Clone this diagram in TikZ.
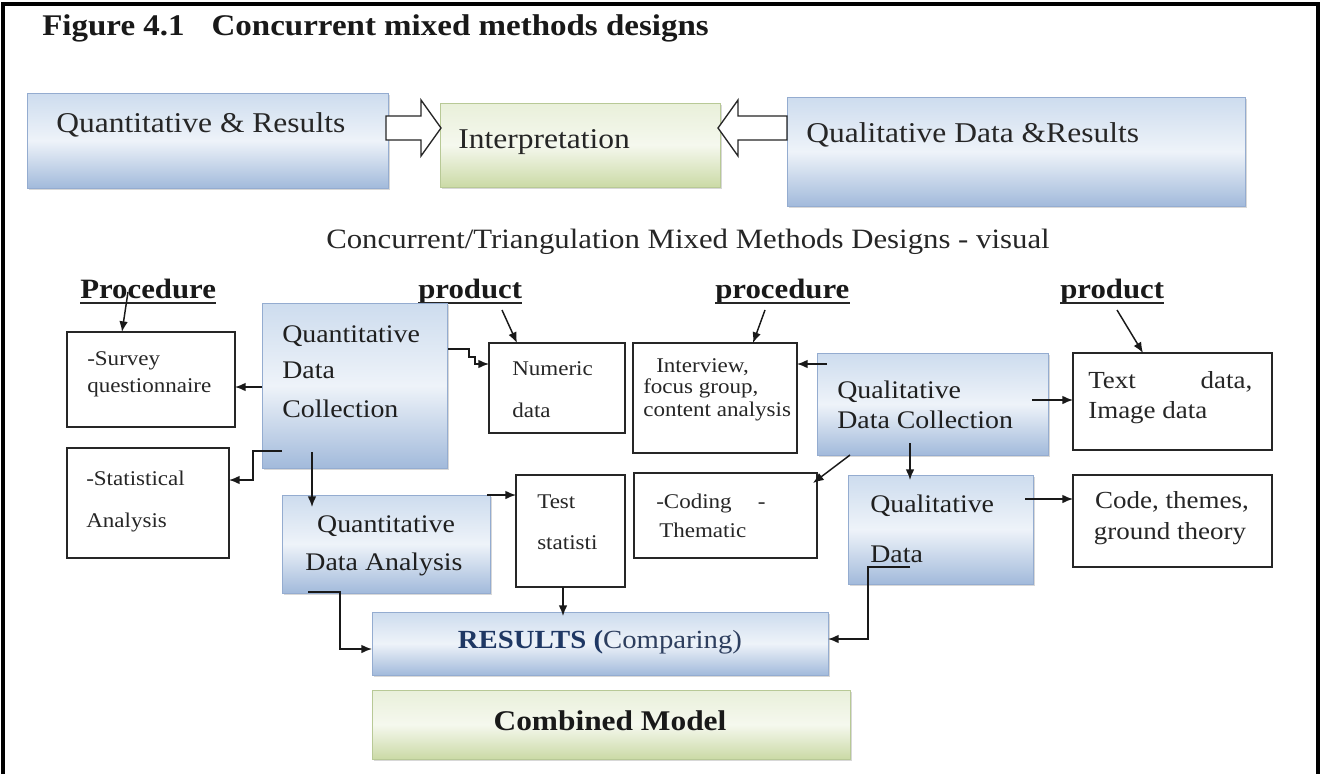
\documentclass[tikz,border=0pt]{standalone}
\usepackage{fontspec}
\setmainfont{Liberation Serif}[FakeStretch=1.1]
\usetikzlibrary{calc,shadows,arrows.meta}
\definecolor{bluetop}{HTML}{CDDCEE}
\definecolor{bluemid}{HTML}{EEF3F9}
\definecolor{bluebot}{HTML}{A2BADB}
\definecolor{blueedge}{HTML}{94ACD0}
\definecolor{greentop}{HTML}{E9F0DA}
\definecolor{greenmid}{HTML}{F5F8EE}
\definecolor{greenbot}{HTML}{CBDAA6}
\definecolor{greenedge}{HTML}{B8C996}
\definecolor{resnavy}{HTML}{1F3864}
\definecolor{resslate}{HTML}{2E3F5F}
\newcommand\BX[6]{\node[#6,anchor=north west,minimum width={(#4-#2)*0.75pt},minimum height={(#5-#3)*0.75pt},inner sep=0pt,outer sep=0pt] (#1) at (#2,#3) {};}
\newcommand\TX[5]{\node[#4,anchor=base west,inner sep=0pt] (#1) at (#2,#3) {#5};}
\newcommand\TC[5]{\node[#4,anchor=base,inner sep=0pt] (#1) at (#2,#3) {#5};}
\tikzset{
 pbox/.style={draw=black!85,line width=1.1pt,fill=white},
 bluebox/.style={top color=bluetop,bottom color=bluebot,middle color=bluemid,draw=blueedge,line width=0.5pt,drop shadow={opacity=0.3,shadow xshift=1.8pt,shadow yshift=-1.8pt}},
 greenbox/.style={top color=greentop,bottom color=greenbot,middle color=greenmid,draw=greenedge,line width=0.5pt,drop shadow={opacity=0.3,shadow xshift=1.8pt,shadow yshift=-1.8pt}},
 arr/.style={-{Latex[length=8pt,width=6.5pt]},line width=1.1pt,draw=black!90},
 hollow/.style={draw=black!85,line width=1pt,fill=white,line join=miter},
 ul/.style={line width=1.4pt,draw=black!85},
 ttl/.style={font=\bfseries\fontsize{22.5}{27}\selectfont,text=black!90},
 topt/.style={font=\fontsize{21.5}{26}\selectfont,text=black!85},
 subt/.style={font=\fontsize{21}{25}\selectfont,text=black!85},
 hd/.style={font=\bfseries\fontsize{21}{25}\selectfont,text=black!90},
 bt/.style={font=\fontsize{19}{23}\selectfont,text=black!88},
 smt/.style={font=\fontsize{15.7}{19}\selectfont,text=black!85},
 rbt/.style={font=\fontsize{18.4}{22}\selectfont,text=black!85},
 rest/.style={font=\fontsize{19.6}{23}\selectfont},
 cmb/.style={font=\bfseries\fontsize{21.4}{25}\selectfont,text=black!90},
}
\begin{document}
\begin{tikzpicture}[x=0.75pt,y=-0.75pt]
\useasboundingbox (0,0) rectangle (1323,774);
\fill[white] (0,0) rectangle (1323,774);
% frame
\draw[line width=3pt,black] (3,774) -- (3,4) -- (1318,4) -- (1318,774);
% title
\TX{title}{42}{36}{ttl}{Figure 4.1\hspace{0.9em}Concurrent mixed methods designs}
% top row
\BX{qr}{27}{93}{388}{188}{bluebox}
\BX{interp}{440}{103}{720}{187}{greenbox}
\BX{ql}{787}{97}{1245}{206}{bluebox}
\TX{tqr}{56}{132}{topt}{Quantitative \& Results}
\TX{tint}{458}{148}{topt}{Interpretation}
\TX{tql}{806}{142}{topt}{Qualitative Data \&Results}
\coordinate (ra) at ($(qr.north east)+(-2,35)$);
\coordinate (rb) at ($(interp.north west)+(1,25)$);
\coordinate (la) at ($(ql.north west)+(0,31)$);
\coordinate (lb) at ($(interp.north east)+(-2,25)$);
\draw[hollow] let \p1=(ra),\p2=(rb) in (\x1,\y1+9pt) -- (\x2-15pt,\y1+9pt) -- (\x2-15pt,\y1+21pt) -- (\x2,\y1) -- (\x2-15pt,\y1-21pt) -- (\x2-15pt,\y1-9pt) -- (\x1,\y1-9pt) -- cycle;
\draw[hollow] let \p1=(la),\p2=(lb) in (\x1,\y1+9pt) -- (\x2+15pt,\y1+9pt) -- (\x2+15pt,\y1+21pt) -- (\x2,\y1) -- (\x2+15pt,\y1-21pt) -- (\x2+15pt,\y1-9pt) -- (\x1,\y1-9pt) -- cycle;
% subtitle
\TC{sub}{688}{248}{subt}{Concurrent/Triangulation Mixed Methods Designs - visual}
% headings
\TX{h1}{80}{298}{hd}{Procedure}
\TX{h2}{418}{298}{hd}{product}
\TX{h3}{715}{298}{hd}{procedure}
\TX{h4}{1060}{298}{hd}{product}
\foreach \h in {h1,h2,h3,h4}{\draw[ul] ($(\h.base west)+(0,5)$) -- ($(\h.base east)+(0,5)$);}
% boxes
\BX{survey}{67}{332}{235}{427}{pbox}
\BX{qdc}{262}{303}{447}{468}{bluebox}
\BX{numeric}{489}{343}{625}{433}{pbox}
\BX{interview}{633}{343}{797}{453}{pbox}
\BX{qualdc}{817}{353}{1048}{455}{bluebox}
\BX{textdata}{1073}{353}{1272}{450}{pbox}
\BX{stat}{67}{448}{229}{558}{pbox}
\BX{qda}{282}{495}{490}{593}{bluebox}
\BX{test}{516}{475}{625}{587}{pbox}
\BX{coding}{634}{473}{817}{558}{pbox}
\BX{qualdata}{848}{475}{1033}{584}{bluebox}
\BX{codethemes}{1073}{475}{1272}{567}{pbox}
\BX{results}{372}{612}{828}{675}{bluebox}
\BX{combined}{372}{690}{850}{759}{greenbox}
% texts
\TX{ts1}{87}{365}{smt}{-Survey}
\TX{ts2}{87}{392}{smt}{questionnaire}
\TX{tq1}{282}{342}{bt}{Quantitative}
\TX{tq2}{282}{378}{bt}{Data}
\TX{tq3}{282}{417}{bt}{Collection}
\TX{tn1}{512}{375}{smt}{Numeric}
\TX{tn2}{512}{417}{smt}{data}
\TX{ti1}{656}{372}{smt}{Interview,}
\TX{ti2}{643}{393}{smt}{focus group,}
\TX{ti3}{643}{416}{smt}{content analysis}
\TX{tc1}{837}{398}{bt}{Qualitative}
\TX{tc2}{837}{428}{bt}{Data Collection}
\TX{tt1}{1088}{388}{rbt}{\makebox[123pt][s]{Text\hfill data,}}
\TX{tt2}{1088}{418}{rbt}{Image data}
\TX{tst1}{86}{485}{smt}{-Statistical}
\TX{tst2}{86}{527}{smt}{Analysis}
\TC{ta1}{386}{532}{bt}{Quantitative}
\TC{ta2}{384}{570}{bt}{Data Analysis}
\TX{te1}{537}{508}{smt}{Test}
\TX{te2}{537}{549}{smt}{statisti}
\TX{tco1}{656}{508}{smt}{\makebox[82pt][s]{-Coding\hfill-}}
\TX{tco2}{659}{537}{smt}{Thematic}
\TX{tqd1}{870}{512}{bt}{Qualitative}
\TX{tqd2}{870}{562}{bt}{Data}
\TC{tct1}{1172}{508}{rbt}{Code, themes,}
\TC{tct2}{1170}{539}{rbt}{ground theory}
\TC{tres}{600}{648}{rest}{{\bfseries\color{resnavy}RESULTS (}{\color{resslate}Comparing)}}
\TC{tcmb}{610}{730}{cmb}{Combined Model}
% connectors
\draw[arr] ($(h1.base west)+(48,-6)$) -- ($(survey.north west)+(55,0)$);
\draw[arr] ($(qdc.north west)+(0,84)$) -- ($(survey.north east)+(0,55)$);
\draw[arr] ($(qdc.north east)+(1,46)$) -- ++(21,0) -- ++(0,8) -- ++(6,0) -- ++(0,7) -- ($(numeric.north west)+(0,21)$);
\draw[arr] ($(h2.base west)+(84,12)$) -- ($(numeric.north west)+(28,0)$);
\draw[arr] ($(h3.base west)+(50,12)$) -- ($(interview.north west)+(120,0)$);
\draw[arr] ($(qualdc.north west)+(10,11)$) -- ($(interview.north east)+(0,21)$);
\draw[arr] ($(h4.base west)+(57,12)$) -- ($(textdata.north west)+(70,0)$);
\draw[arr] ($(qualdc.north east)+(-16,47)$) -- ($(textdata.north west)+(0,47)$);
\draw[arr] ($(qdc.south west)+(20,-17)$) -- ++(-29,0) |- ($(stat.north east)+(0,32)$);
\draw[arr] ($(qdc.south west)+(50,-16)$) -- ($(qda.north west)+(30,12)$);
\draw[arr] ($(qda.north east)+(-3,0)$) -- (test.west |- qda.north);
\draw[arr] ($(test.south west)+(47,0)$) -- ($(results.north west)+(191,4)$);
\draw[arr] ($(qda.south west)+(26,-1)$) -- ++(32,0) |- ($(results.north west)+(0,37)$);
\draw[arr] ($(qualdc.south west)+(33,0)$) -- ($(coding.north east)+(-4,10)$);
\draw[arr] ($(qualdc.south west)+(93,-12)$) -- ($(qualdata.north west)+(62,5)$);
\draw[arr] ($(qualdata.north east)+(-8,24)$) -- ($(codethemes.north west)+(0,24)$);
\draw[arr] ($(qualdata.north west)+(62,92)$) -- ++(-42,0) |- ($(results.north east)+(0,27)$);
\end{tikzpicture}
\end{document}
